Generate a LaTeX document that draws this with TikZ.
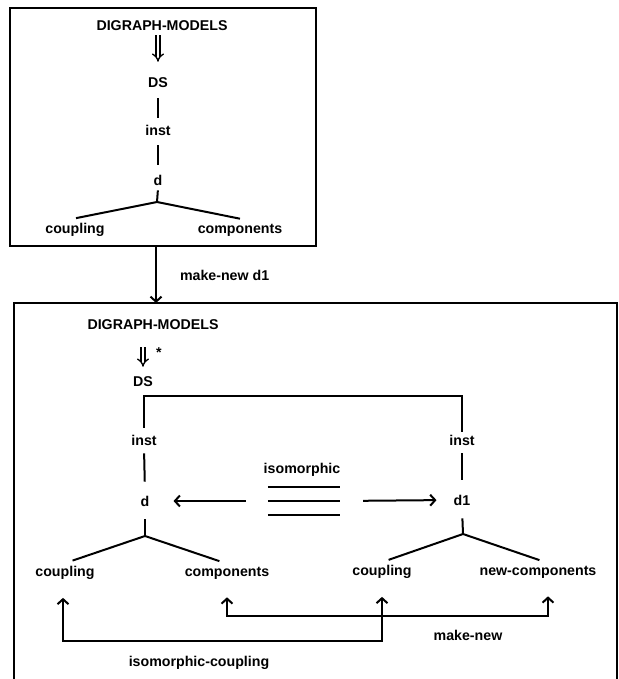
\documentclass[tikz,border=0pt]{standalone}
\usepackage{fontspec}
\setmainfont{Liberation Sans}
\usetikzlibrary{arrows.meta,calc}

\begin{document}
\begin{tikzpicture}[x=1pt,y=-1pt,
	lbl/.style={inner sep=3pt,font=\fontsize{14.2}{17}\selectfont\bfseries},
	ln/.style={line width=2pt},
	arr/.style={ln,-{Straight Barb[length=5pt,width=11pt]}},
	impl/.style={double,double distance=2.8pt,line width=1.3pt,-{Implies}}]
			\useasboundingbox (0,0) rectangle (618,679);
			\clip (0,0) rectangle (618,679);
			
			% Upper frame: the digraph model d
			\node[ln,draw,minimum width=306pt,minimum height=238pt] (frameA) at (163,127) {};
			\node[lbl] (dmA) at (162,26) {DIGRAPH-MODELS};
			\node[lbl] (dsA) at (158,83) {DS};
			\node[lbl] (instA) at (158,130) {inst};
			\node[lbl] (dA) at (158,180) {d};
			\node[lbl] (cplA) at (75,230) {coupling};
			\node[lbl] (cmpA) at (240,230) {components};
			\coordinate (brA) at (157,202);
			
			\draw[impl,shorten <=1pt,shorten >=13pt] (dmA.south -| dsA) -- (dsA.north);
			\draw[ln,shorten <=7pt,shorten >=4pt] (dsA) -- (instA);
			\draw[ln,shorten <=7pt,shorten >=7pt] (instA.south) -- (dA.north);
			\draw[ln,shorten <=2pt] (dA.south) -- (brA);
			\draw[ln] (cplA.north) ++(1,-2) -- (brA) -- ($(cmpA.north)+(0,-2)$);
			
			% make-new d1
			\draw[arr] (frameA.south -| 156,0) -- (156,303)
			node[lbl,midway,right=20pt] (mkA) {make-new d1};
			
			% Lower frame: d and its new copy d1
			\node[ln,draw,minimum width=603pt,minimum height=417pt] (frameB) at (315.5,511.5) {};
			\node[lbl] (dmB) at (153,325) {DIGRAPH-MODELS};
			\node[lbl] (dsB) at (143,382) {DS};
			\node[lbl] (star) at (159,353) {*};
			\node[lbl] (instL) at (144,440) {inst};
			\node[lbl] (instR) at (462,440) {inst};
			\node[lbl] (dL) at (145,501) {d};
			\node[lbl] (dR) at (462,500) {d1};
			\node[lbl] (cplL) at (65,573) {coupling};
			\node[lbl] (cmpL) at (227,573) {components};
			\node[lbl] (cplR) at (382,572) {coupling};
			\node[lbl] (newR) at (538,572) {new-components};
			\coordinate (brL) at (145,536);
			\coordinate (brR) at (463,534);
			\coordinate (bar) at (0,396);
			
			\draw[impl,shorten <=14pt,shorten >=7pt] (dmB.south -| dsB) -- (dsB.north);
			\draw[ln,shorten <=4pt] (instL.north) -- (instL.north |- bar) -| (instR.north);
			\draw[ln,shorten <=5pt,shorten >=11pt] (instL.south) -- (dL.north);
			\draw[ln,shorten <=5pt,shorten >=12pt] (instR.south) -- (dR.north);
			\draw[ln,shorten <=10pt] (dL.south) -- (brL);
			\draw[ln,shorten <=10pt] (dR.south) -- (brR);
			\draw[ln,shorten <=8pt] (cplL.north) -- (brL);
			\draw[ln,shorten >=8pt] (brL) -- (cmpL.north);
			\draw[ln,shorten <=7pt] (cplR.north) -- (brR);
			\draw[ln,shorten >=8pt] (brR) -- ([xshift=9pt]newR.north);
			
			% isomorphic
			\node[lbl] (iso) at (302,470) {isomorphic};
			\node[minimum width=72pt,minimum height=27pt,inner sep=0pt] (eq) at (304,501) {};
			\draw[ln] (eq.north west) -- (eq.north east);
			\draw[ln] (eq.west) -- (eq.east);
			\draw[ln] (eq.south west) -- (eq.south east);
			\draw[arr,shorten <=22pt,shorten >=21pt] (eq.west) -- (dL.east);
			\draw[arr,shorten <=23pt,shorten >=14pt] (eq.east) -- (dR.west);
			
			% links below the trees
			\coordinate (rowA) at (0,616);
			\coordinate (rowB) at (0,641);
			\draw[ln,{Straight Barb[length=5pt,width=11pt]}-{Straight Barb[length=5pt,width=11pt]},shorten <=15pt,shorten >=15pt]
			(cmpL.south) -- (cmpL.south |- rowA) -| ([xshift=10pt]newR.south);
			\draw[ln,{Straight Barb[length=5pt,width=11pt]}-{Straight Barb[length=5pt,width=11pt]},shorten <=15pt,shorten >=15pt]
			([xshift=-2pt]cplL.south) -- ([xshift=-2pt]cplL.south |- rowB) -| (cplR.south);
			\node[lbl] (mkB) at (468,635) {make-new};
			\node[lbl] (isoB) at (199,663) {isomorphic-coupling};
			
		\end{tikzpicture}
\end{document}
